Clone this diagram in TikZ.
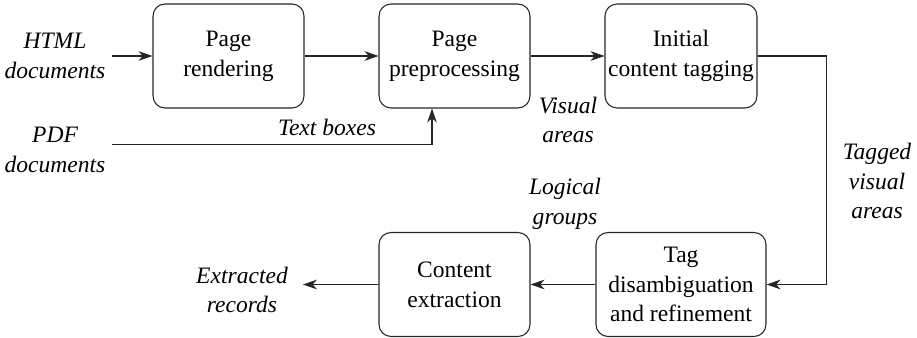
\documentclass[tikz,border=0pt]{standalone}
\usepackage{fontspec}
\setmainfont{Liberation Serif}
\usepackage{tikz}
\usetikzlibrary{arrows.meta}

\begin{document}
\begin{tikzpicture}
            [
                x=0.02cm, y=-0.02cm,
                line width=0.6pt,
                font=\fontsize{13.4}{17}\selectfont
            ]
            \tikzset{
                stagebox/.style = {rectangle, rounded corners=0.24cm, draw=black!85, align=center,
                                   minimum width=3.02cm, minimum height=2.08cm, inner sep=0pt},
                datalabel/.style = {align=center, font=\fontsize{13.4}{17}\selectfont\itshape},
                arr/.style = {-{Stealth[length=8pt,width=5.5pt,inset=2.5pt]}, draw=black!85}
            }
            \useasboundingbox (0,0) rectangle (917,338);
            % stages
            \node [stagebox] (render) at (228.5,56) {Page\\rendering};
            \node [stagebox] (prep) at (454.5,56) {Page\\preprocessing};
            \node [stagebox, minimum width=3.04cm] (tag) at (681,56) {Initial\\content tagging};
            \node [stagebox, minimum width=3.4cm] (refine) at (681,284.5) {Tag\\disambiguation\\and refinement};
            \node [stagebox] (extract) at (454.5,284.5) {Content\\extraction};
            % inputs, outputs and data
            \node [datalabel] (html) at (55,56) {HTML\\documents};
            \node [datalabel] (pdf) at (55,150) {PDF\\documents};
            \node [datalabel] (boxes) at (327,127) {Text boxes};
            \node [datalabel] (visual) at (568,120) {Visual\\areas};
            \node [datalabel] (tagged) at (877,181) {Tagged\\visual\\areas};
            \node [datalabel] (logical) at (565,204) {Logical\\groups};
            \node [datalabel] (records) at (242,290) {Extracted\\records};
            % flow
            \draw [arr] (html.east) -- (render.west);
            \draw [arr] (render.east) -- (prep.west);
            \draw [arr] ([yshift=3.4pt]pdf.east) -| ([xshift=-0.45cm]prep.south);
            \draw [arr] (prep.east) -- (tag.west);
            \draw [arr] (tag.east) -- ++(69,0) |- (refine.east);
            \draw [arr] (refine.west) -- (extract.west -| refine.west) -- (extract.east);
            \draw [arr, shorten >=5pt] (extract.west) -- (extract.west -| records.east);
        \end{tikzpicture}
\end{document}
